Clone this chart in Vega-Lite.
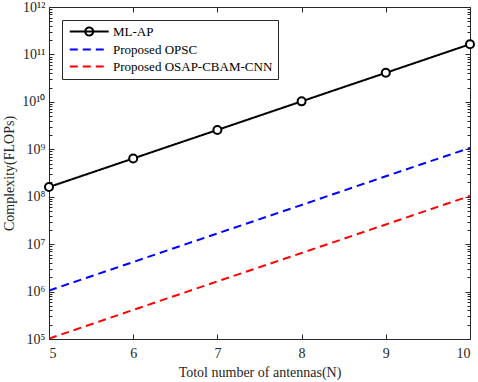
{
  "$schema": "https://vega.github.io/schema/vega-lite/v6.json",
  "autosize": "none",
  "width": 421,
  "height": 332,
  "padding": {"left": 49, "top": 7, "right": 8, "bottom": 43},
  "background": "white",
  "config": {
    "font": "Liberation Serif",
    "view": {"stroke": "#262626", "strokeWidth": 1},
    "axis": {"grid": false, "domainColor": "#262626", "tickColor": "#262626", "labelColor": "#262626", "titleColor": "#262626", "labelFont": "Liberation Serif", "titleFont": "Liberation Serif", "labelFontSize": 14, "titleFontSize": 14, "titleFontWeight": "normal"}
  },
  "data": {"values": [
    {"N": 5, "value": 1.6e8, "series": "ML-AP"},
    {"N": 6, "value": 6.4e8, "series": "ML-AP"},
    {"N": 7, "value": 2.56e9, "series": "ML-AP"},
    {"N": 8, "value": 1.024e10, "series": "ML-AP"},
    {"N": 9, "value": 4.1e10, "series": "ML-AP"},
    {"N": 10, "value": 1.64e11, "series": "ML-AP"},
    {"N": 5, "value": 1.05e6, "series": "Proposed OPSC"},
    {"N": 6, "value": 4.2e6, "series": "Proposed OPSC"},
    {"N": 7, "value": 1.68e7, "series": "Proposed OPSC"},
    {"N": 8, "value": 6.7e7, "series": "Proposed OPSC"},
    {"N": 9, "value": 2.7e8, "series": "Proposed OPSC"},
    {"N": 10, "value": 1.07e9, "series": "Proposed OPSC"},
    {"N": 5, "value": 1.02e5, "series": "Proposed OSAP-CBAM-CNN"},
    {"N": 6, "value": 4.1e5, "series": "Proposed OSAP-CBAM-CNN"},
    {"N": 7, "value": 1.64e6, "series": "Proposed OSAP-CBAM-CNN"},
    {"N": 8, "value": 6.5e6, "series": "Proposed OSAP-CBAM-CNN"},
    {"N": 9, "value": 2.6e7, "series": "Proposed OSAP-CBAM-CNN"},
    {"N": 10, "value": 1.04e8, "series": "Proposed OSAP-CBAM-CNN"}
  ]},
  "layer": [
    {
      "mark": {"type": "line", "strokeWidth": 2, "clip": true},
      "encoding": {
        "x": {"field": "N", "type": "quantitative", "scale": {"domain": [5, 10], "nice": false},
              "title": "Totol number of antennas(N)",
              "axis": {"orient": "bottom", "values": [5, 6, 7, 8, 9, 10], "tickSize": -5, "labelPadding": 12, "titlePadding": 5, "format": "d"}},
        "y": {"field": "value", "type": "quantitative", "scale": {"type": "log", "domain": [1e5, 1e12], "nice": false},
              "title": "Complexity(FLOPs)",
              "axis": {"orient": "left",
                       "values": [1e5,2e5,3e5,4e5,5e5,6e5,7e5,8e5,9e5,1e6,2e6,3e6,4e6,5e6,6e6,7e6,8e6,9e6,1e7,2e7,3e7,4e7,5e7,6e7,7e7,8e7,9e7,1e8,2e8,3e8,4e8,5e8,6e8,7e8,8e8,9e8,1e9,2e9,3e9,4e9,5e9,6e9,7e9,8e9,9e9,1e10,2e10,3e10,4e10,5e10,6e10,7e10,8e10,9e10,1e11,2e11,3e11,4e11,5e11,6e11,7e11,8e11,9e11,1e12],
                       "tickSize": {"condition": {"test": "abs(log(datum.value)/LN10 - round(log(datum.value)/LN10)) < 0.001", "value": -5}, "value": -3},
                       "labelExpr": "abs(log(datum.value)/LN10 - round(log(datum.value)/LN10)) < 0.001 ? ['10⁵','10⁶','10⁷','10⁸','10⁹','10¹⁰','10¹¹','10¹²'][round(log(datum.value)/LN10) - 5] : ''",
                       "labelPadding": 9, "titlePadding": 5}},
        "color": {"field": "series", "type": "nominal",
                  "scale": {"domain": ["ML-AP", "Proposed OPSC", "Proposed OSAP-CBAM-CNN"], "range": ["#000000", "#0000FF", "#FF0000"]},
                  "legend": {"orient": "top-left", "offset": 13, "title": null, "strokeColor": "#262626", "fillColor": "white",
                             "padding": 5, "labelFontSize": 13, "labelFont": "Liberation Serif", "labelColor": "#000000",
                             "symbolType": "M-1,0H9.4", "symbolSize": 56, "symbolStrokeWidth": 2, "labelOffset": 33, "rowPadding": 3,
                             "symbolFillColor": "white",
                             "encode": {"symbols": {"update": {"shape": {"signal": "datum.value === 'ML-AP' ? 'M-1,0H9.4M5.27,0A1.07,1.07 0 1 1 3.13,0A1.07,1.07 0 1 1 5.27,0' : 'M-1,0H9.4'"}, "fill": {"value": "white"}}}}}},
        "strokeDash": {"field": "series", "type": "nominal",
                       "scale": {"domain": ["ML-AP", "Proposed OPSC", "Proposed OSAP-CBAM-CNN"], "range": [[1, 0], [8, 5], [8, 5]]},
                       "legend": null}
      }
    },
    {
      "transform": [{"filter": "datum.series === 'ML-AP'"}],
      "mark": {"type": "point", "shape": "circle", "size": 64, "filled": true, "fill": "white", "stroke": "#000000", "strokeWidth": 2, "opacity": 1, "clip": false},
      "encoding": {
        "x": {"field": "N", "type": "quantitative", "axis": null},
        "y": {"field": "value", "type": "quantitative", "axis": null}
      }
    },
    {
      "mark": {"type": "point", "opacity": 0},
      "encoding": {
        "x": {"field": "N", "type": "quantitative", "axis": {"orient": "top", "values": [5, 6, 7, 8, 9, 10], "tickSize": -5, "labels": false, "title": null, "domain": false}},
        "y": {"field": "value", "type": "quantitative",
              "axis": {"orient": "right", "labels": false, "title": null, "domain": false,
                       "values": [1e5,2e5,3e5,4e5,5e5,6e5,7e5,8e5,9e5,1e6,2e6,3e6,4e6,5e6,6e6,7e6,8e6,9e6,1e7,2e7,3e7,4e7,5e7,6e7,7e7,8e7,9e7,1e8,2e8,3e8,4e8,5e8,6e8,7e8,8e8,9e8,1e9,2e9,3e9,4e9,5e9,6e9,7e9,8e9,9e9,1e10,2e10,3e10,4e10,5e10,6e10,7e10,8e10,9e10,1e11,2e11,3e11,4e11,5e11,6e11,7e11,8e11,9e11,1e12],
                       "tickSize": {"condition": {"test": "abs(log(datum.value)/LN10 - round(log(datum.value)/LN10)) < 0.001", "value": -5}, "value": -3}}}
      }
    }
  ],
  "resolve": {"axis": {"x": "independent", "y": "independent"}}
}
